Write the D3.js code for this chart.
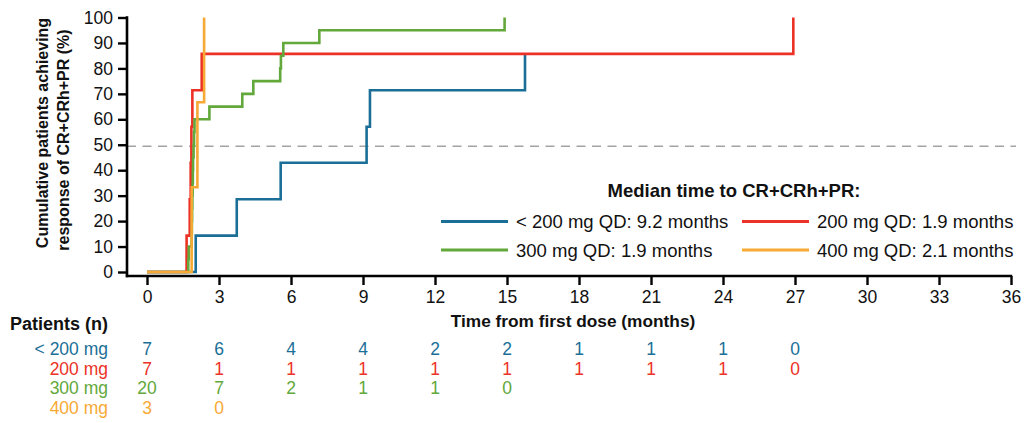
<!DOCTYPE html>
<html>
<head>
<meta charset="utf-8">
<script src="https://cdn.jsdelivr.net/npm/d3@7"></script>
<style>
  html, body { margin: 0; padding: 0; background: #fff; }
  svg { display: block; font-family: "Liberation Sans", Arial, sans-serif; }
</style>
</head>
<body>
<svg id="chart" width="1030" height="423"></svg>
<script>
// Cumulative response data (months, % of patients)
const groupNames = ["< 200 mg", "200 mg", "300 mg", "400 mg"];
const legendLabels = ["< 200 mg QD: 9.2 months", "200 mg QD: 1.9 months", "300 mg QD: 1.9 months", "400 mg QD: 2.1 months"];
const groupColors = ["#1b6f97", "#ec3226", "#62a83b", "#f7a935"];

const lt200Times  = [0, 2.03, 3.74, 5.57, 9.15, 9.29, 15.75];
const lt200Values = [0, 14.3, 28.6, 42.9, 57.1, 71.4, 85.7];

const d200Times  = [0, 1.65, 1.78, 1.82, 1.85, 1.89, 2.28, 26.93];
const d200Values = [0, 14.3, 28.6, 42.9, 57.1, 71.4, 85.7, 100];

const d300Times  = [0, 1.72, 1.74, 1.86, 1.87, 1.88, 1.89, 1.90, 1.91, 1.92, 1.94, 1.96, 1.98, 2.6, 3.97, 4.43, 5.55, 5.58, 5.68, 7.18, 14.9];
const d300Values = [0, 5, 10, 15, 20, 25, 30, 35, 40, 45, 50, 55, 60, 65, 70, 75, 80, 85, 90, 95, 100];

const d400Times  = [0, 1.86, 2.1, 2.38];
const d400Values = [0, 33.3, 66.7, 100];

// Patients at risk, one entry per 3-month tick
const atRiskTimes = [0, 3, 6, 9, 12, 15, 18, 21, 24, 27];
const lt200AtRisk = [7, 6, 4, 4, 2, 2, 1, 1, 1, 0];
const d200AtRisk  = [7, 1, 1, 1, 1, 1, 1, 1, 1, 0];
const d300AtRisk  = [20, 7, 2, 1, 1, 0];
const d400AtRisk  = [3, 0];

const xTicks = d3.range(0, 37, 3);
const yTicks = d3.range(0, 101, 10);

const svg = d3.select("#chart");

const x = d3.scaleLinear().domain([0, 36]).range([147, 1011]);
const y = d3.scaleLinear().domain([0, 100]).range([272, 17.5]);
const axisX0 = 127, axisY0 = 276;

// 50% reference line
svg.append("line")
  .attr("x1", axisX0).attr("x2", 1016)
  .attr("y1", y(50) + 1.5).attr("y2", y(50) + 1.5)
  .attr("stroke", "#a3a3a3").attr("stroke-width", 1.6)
  .attr("stroke-dasharray", "9,6.5");

// Y axis
const yAxis = svg.append("g")
  .attr("transform", `translate(${axisX0},0)`)
  .call(d3.axisLeft(y).tickValues(yTicks).tickSize(9).tickSizeOuter(0).tickPadding(5));
yAxis.select(".domain").remove();
yAxis.selectAll(".tick line").attr("stroke", "#000").attr("stroke-width", 2.4);
yAxis.selectAll(".tick text").attr("font-size", 17.5).attr("fill", "#111").attr("font-family", "Liberation Sans, Arial, sans-serif");
svg.append("line").attr("x1", axisX0).attr("x2", axisX0).attr("y1", y(100) - 1.2).attr("y2", axisY0 + 1.2)
  .attr("stroke", "#000").attr("stroke-width", 2.6);

// X axis
const xAxis = svg.append("g")
  .attr("transform", `translate(0,${axisY0})`)
  .call(d3.axisBottom(x).tickValues(xTicks).tickSize(9).tickSizeOuter(0).tickPadding(6));
xAxis.select(".domain").remove();
xAxis.selectAll(".tick line").attr("stroke", "#000").attr("stroke-width", 2.4);
xAxis.selectAll(".tick text").attr("font-size", 17.5).attr("fill", "#111").attr("font-family", "Liberation Sans, Arial, sans-serif");
svg.append("line").attr("x1", axisX0 - 1.2).attr("x2", x(36) + 1.2).attr("y1", axisY0).attr("y2", axisY0)
  .attr("stroke", "#000").attr("stroke-width", 2.6);

// Axis titles
const yTitle = svg.append("text")
  .attr("transform", "rotate(-90)")
  .attr("font-size", 16).attr("font-weight", "bold").attr("fill", "#111")
  .attr("text-anchor", "middle");
yTitle.append("tspan").attr("x", -133).attr("y", 48).text("Cumulative patients achieving");
yTitle.append("tspan").attr("x", -140).attr("y", 69).text("response of CR+CRh+PR (%)");

svg.append("text")
  .attr("x", 573).attr("y", 327)
  .attr("text-anchor", "middle").attr("font-size", 17.3).attr("font-weight", "bold").attr("fill", "#111")
  .text("Time from first dose (months)");

// Step curves
const series = [
  [lt200Times, lt200Values],
  [d200Times, d200Values],
  [d300Times, d300Values],
  [d400Times, d400Values]
];
const line = d3.line().x(d => x(d[0])).y(d => y(d[1])).curve(d3.curveStepAfter);
series.forEach(([t, v], i) => {
  svg.append("path")
    .datum(t.map((tt, j) => [tt, v[j]]))
    .attr("d", line)
    .attr("fill", "none")
    .attr("stroke", groupColors[i])
    .attr("stroke-width", 2.6)
    .attr("stroke-linejoin", "miter")
    .attr("stroke-linecap", "butt");
});

// Legend
svg.append("text")
  .attr("x", 734).attr("y", 197)
  .attr("text-anchor", "middle").attr("font-size", 18.5).attr("font-weight", "bold").attr("fill", "#111")
  .text("Median time to CR+CRh+PR:");
const legendPos = [[441, 221.5], [742, 221.5], [441, 250], [742, 250]];
legendLabels.forEach((lab, i) => {
  const [lx, ly] = legendPos[i];
  svg.append("line").attr("x1", lx).attr("x2", lx + 67).attr("y1", ly).attr("y2", ly)
    .attr("stroke", groupColors[i]).attr("stroke-width", 2.8);
  svg.append("text").attr("x", lx + 75).attr("y", ly + 6.5)
    .attr("font-size", 18.5).attr("fill", "#111").text(lab);
});

// Patients at risk table
svg.append("text")
  .attr("x", 108).attr("y", 330)
  .attr("text-anchor", "end")
  .attr("font-size", 18).attr("font-weight", "bold").attr("fill", "#111")
  .text("Patients (n)");
const atRisk = [lt200AtRisk, d200AtRisk, d300AtRisk, d400AtRisk];
const rowY = [355, 374.5, 394, 413.5];
atRisk.forEach((counts, i) => {
  svg.append("text")
    .attr("x", 108).attr("y", rowY[i])
    .attr("text-anchor", "end").attr("font-size", 17.5).attr("fill", groupColors[i])
    .text(groupNames[i]);
  svg.append("g").selectAll("text")
    .data(counts)
    .join("text")
    .attr("x", (d, j) => x(atRiskTimes[j]))
    .attr("y", rowY[i])
    .attr("text-anchor", "middle").attr("font-size", 17.5).attr("fill", groupColors[i])
    .text(d => d);
});
</script>
</body>
</html>
